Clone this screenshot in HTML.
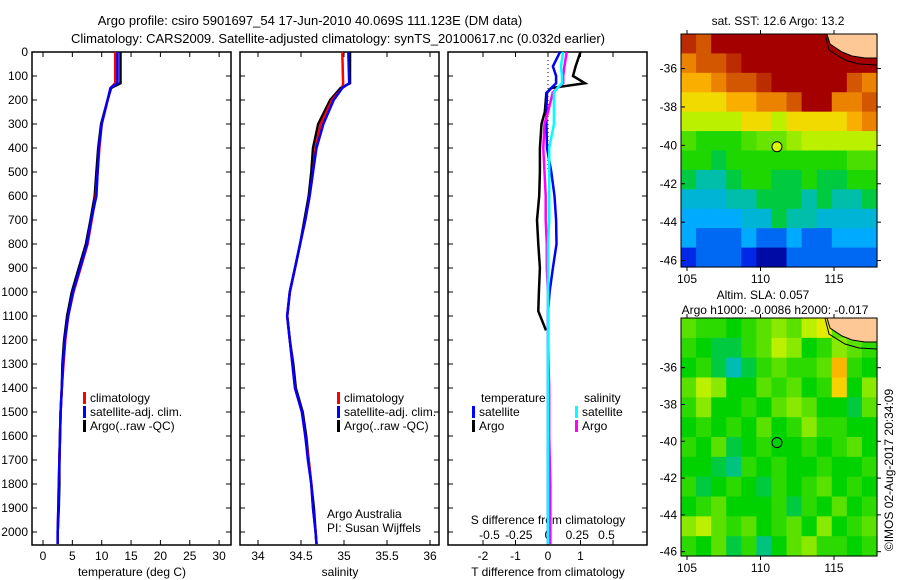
<!DOCTYPE html>
<html><head><meta charset="utf-8"><style>
body{margin:0;background:#fff;}
svg{display:block;font-family:"Liberation Sans",sans-serif;}
text{fill:#000;font-size:12px;}
</style></head><body>
<svg id="c" width="900" height="580">
<text x="310" y="25" text-anchor="middle" style="font-size:13px">Argo profile: csiro 5901697_54 17-Jun-2010 40.069S 111.123E (DM data)</text>
<text x="338" y="43" text-anchor="middle" style="font-size:13px">Climatology: CARS2009. Satellite-adjusted climatology: synTS_20100617.nc (0.032d earlier)</text>
</svg>
<script>
const depths=[0,130,150,200,300,400,500,600,700,800,900,1000,1100,1200,1300,1400,1500,1600,1700,1800,1900,2000,2050];
const tempClim=[12.3,12.3,11.5,11.0,10.0,9.6,9.3,9.0,8.3,7.6,6.4,5.2,4.3,3.8,3.5,3.2,3.0,2.9,2.8,2.7,2.6,2.5,2.5];
const tempSat=[12.7,12.7,11.5,11.0,10.0,9.5,9.3,9.1,8.2,7.5,6.3,5.1,4.3,3.7,3.4,3.2,3.0,2.9,2.8,2.7,2.6,2.5,2.5];
const tempArgo=[13.2,13.2,11.6,11.0,9.9,9.4,9.1,8.8,8.1,7.3,6.1,4.9,4.1,3.6,3.3,3.2,3.0,2.9,2.8,2.8,2.7,2.5,2.5];
const salClim=[34.98,34.99,34.98,34.86,34.73,34.67,34.64,34.6,34.55,34.49,34.43,34.37,34.34,34.37,34.4,34.43,34.51,34.55,34.59,34.62,34.64,34.67,34.68];
const salSat=[35.05,35.06,34.98,34.88,34.76,34.68,34.64,34.6,34.55,34.49,34.43,34.37,34.34,34.37,34.4,34.43,34.51,34.55,34.58,34.62,34.64,34.67,34.68];
const salArgo=[35.07,35.07,34.96,34.84,34.70,34.64,34.62,34.59,34.54,34.49,34.43,34.37,34.34,34.37,34.41,34.44,34.52,34.56,34.59,34.62,34.65,34.67,34.68];
const diffDepths=[0,60,100,130,150,170,250,300,400,500,600,700,800,900,1000,1080,1160,1200,1400,1600,1800,2000,2050];
const tDiffSat=[0.37,0.15,0.25,0.25,0.1,-0.03,-0.05,-0.05,-0.03,0.1,0.2,0.25,0.26,0.15,0.05,0.0,0.0,0.0,0.0,0.0,0.0,0.0,0.0];
const tDiffArgo=[1.0,0.85,0.77,1.14,0.1,-0.05,-0.1,-0.2,-0.25,-0.25,-0.27,-0.34,-0.3,-0.25,-0.28,-0.3,-0.06,null,null,null,null,null,null];
const sDiffSat=[0.13,0.11,0.12,0.12,0.08,0.05,0.05,0.05,0.01,0.01,0.01,0.01,0.0,0.0,0.0,0.0,0.0,0.0,0.0,0.0,0.0,0.0,0.0];
const sDiffArgo=[0.16,0.14,0.13,0.13,0.08,0.04,0.0,-0.03,-0.04,-0.03,-0.02,-0.02,-0.01,-0.01,0.0,0.0,0.0,0.0,0.01,0.01,0.02,0.02,0.02];
const depthTicks=[0,100,200,300,400,500,600,700,800,900,1000,1100,1200,1300,1400,1500,1600,1700,1800,1900,2000];
const tempTicks=[0,5,10,15,20,25,30];
const salTicks=[34,34.5,35,35.5,36];
const tDiffTicks=[-2,-1,0,1,2];
const tDiffLabels=["-2","-1","0","1",""];
const sDiffTicks=[-0.5,-0.25,0,0.25,0.5];
const sDiffLabels=["-0.5","-0.25","0","0.25","0.5"];
const sstRows=[
[15.5,15,16,16,16,16,16,16,16,16,16,16,16],
[14.5,15,15,15.5,16,16,16,16,16,16,16,16,16],
[14,14,14.5,15,15,15.5,16,16,16,16,16,15,14.5],
[13.5,13.5,13.5,14,14,14.5,14.5,15,16,16,14.5,14.5,15],
[13,13,13,13,13.5,13.5,13,13.5,13.5,13.5,13.5,14,14.5],
[12.3,12,12,12,12.3,12.5,12.5,12.8,13,13,13,13,13],
[12,12,11.5,12,12,12,12,12,12,12,12,12.3,12.3],
[11.5,11,11,11.5,12,12,11.5,11.5,12,11.5,11.5,12,12],
[10.5,10.5,10.5,11,11,11.5,11.5,11.5,11,11.5,11,11,11.5],
[10,10,10,10,10.5,10.5,11.5,11,11,10.5,10.5,10.5,10.5],
[10,9.5,9.5,9.5,10,9.5,9.5,10,9.5,9.5,10,10,10],
[9,9.5,9.5,9.5,9,8.5,8.5,9.5,9.5,9.5,9.5,9.5,9.5]];
const slaRows=[
[0.1,0.05,0.05,0.0,0.05,0.1,0.15,0.1,0.2,0.25,0.1,0.0,0.0],
[0.05,0.0,-0.05,-0.05,0.05,0.1,0.2,0.15,0.0,0.05,0.15,0.1,0.05],
[0.0,0.05,-0.05,-0.15,-0.05,0.05,0.1,0.05,0.05,0.1,0.35,0.05,0.0],
[0.1,0.2,0.15,0.0,0.0,0.1,0.05,0.1,0.0,0.05,0.3,0.0,0.15],
[0.05,0.15,0.0,0.0,0.05,0.0,0.1,0.15,0.1,0.0,0.0,-0.05,0.1],
[0.0,0.05,0.0,0.05,0.0,0.1,0.0,0.05,0.15,0.05,0.05,0.0,0.0],
[0.05,0.0,0.1,-0.05,0.0,0.05,0.0,0.0,0.05,0.0,0.05,0.1,0.0],
[0.0,0.0,-0.05,-0.1,0.05,0.0,0.05,0.0,0.0,0.05,0.0,0.0,0.05],
[0.05,-0.05,0.0,0.05,0.0,-0.05,0.05,0.0,0.05,0.1,0.0,0.05,0.0],
[0.0,0.05,0.1,0.0,0.0,0.0,0.05,-0.05,0.05,0.0,0.1,0.0,0.05],
[0.15,0.2,0.1,0.05,0.1,0.0,0.05,0.1,0.0,0.15,0.0,0.05,0.1],
[0.05,0.0,0.1,-0.05,0.05,-0.1,0.0,0.1,0.15,0.05,0.05,0.0,0.05]];
const mapLatTicks=[-36,-38,-40,-42,-44,-46];
const mapLonTicks=[105,110,115];

const svg=document.getElementById('c');const NS='http://www.w3.org/2000/svg';
function mk(tag,attrs,parent){const e=document.createElementNS(NS,tag);for(const k in attrs)e.setAttribute(k,attrs[k]);(parent||svg).appendChild(e);return e;}
function txt(x,y,s,anchor,parent){const t=mk('text',{x:x,y:y,'text-anchor':anchor||'start'},parent);t.textContent=s;return t;}
const Y0=52,Y1=545;
function yD(d){return Y0+d*0.24;}
function line(vals,ds,xf,color,name,w){
  let pts=[];for(let i=0;i<vals.length;i++){if(vals[i]===null)continue;pts.push(xf(vals[i]).toFixed(1)+','+yD(ds[i]).toFixed(1));}
  const p=mk('polyline',{points:pts.join(' '),fill:'none',stroke:color,'stroke-width':w||2.5});
  
  
}
function panel(x0,x1,name){const g=mk('g',{});
  mk('rect',{x:x0,y:Y0,width:x1-x0,height:Y1-Y0,fill:'none',stroke:'#000','stroke-width':1.5},g);return g;}
function xticks(g,ticks,labels,xf,ly){ticks.forEach((v,i)=>{const x=xf(v);mk('line',{x1:x,x2:x,y1:Y0,y2:Y0+5,stroke:'#000'},g);mk('line',{x1:x,x2:x,y1:Y1,y2:Y1-5,stroke:'#000'},g);const t=txt(x,ly,labels[i],'middle',g);});}
function yticks(g,x0,x1){depthTicks.forEach(d=>{const y=yD(d);mk('line',{x1:x0,x2:x0+5,y1:y,y2:y,stroke:'#000'},g);mk('line',{x1:x1,x2:x1-5,y1:y,y2:y,stroke:'#000'},g);});}
const xT=v=>43+v*5.87;
let g1=panel(32,231,'temperature-panel');yticks(g1,32,231);
depthTicks.forEach(d=>{const t=txt(28,yD(d)+4,String(d),'end',g1);});
xticks(g1,tempTicks,tempTicks.map(String),xT,560);
let t1=txt(132,576,'temperature (deg C)','middle',g1);
line(tempArgo,depths,xT,'#000','argo-temperature-line');line(tempClim,depths,xT,'#f00','climatology-temperature-line');line(tempSat,depths,xT,'#00f','satellite-temperature-line');
const xS=v=>258+(v-34)*86;
let g2=panel(240,439,'salinity-panel');yticks(g2,240,439);
xticks(g2,salTicks,salTicks.map(String),xS,560);
let t2=txt(340,576,'salinity','middle',g2);
line(salArgo,depths,xS,'#000','argo-salinity-line');line(salClim,depths,xS,'#f00','climatology-salinity-line');line(salSat,depths,xS,'#00f','satellite-salinity-line');
function legend(g,x,y,items){items.forEach((it,i)=>{mk('rect',{x:x,y:y+i*14-10,width:3,height:12,fill:it[1]},g);const t=txt(x+7,y+i*14,it[0],'start',g);});}
legend(g1,83,402,[['climatology','#f00'],['satellite-adj. clim.','#00f'],['Argo(..raw -QC)','#000']]);
legend(g2,337,402,[['climatology','#f00'],['satellite-adj. clim.','#00f'],['Argo(..raw -QC)','#000']]);
let a1=txt(327,518,'Argo Australia','start',g2);
let a2=txt(327,532,'PI: Susan Wijffels','start',g2);
const xTD=v=>548+v*32.5, xSD=v=>548+v*117;
let g3=panel(448,647,'difference-panel');yticks(g3,448,647);
xticks(g3,tDiffTicks,tDiffLabels,xTD,560);
sDiffTicks.forEach((v,i)=>{const t=txt(xSD(v),539,sDiffLabels[i],'middle',g3);});
let t3=txt(548,576,'T difference from climatology','middle',g3);
let t4=txt(548,524,'S difference from climatology','middle',g3);
mk('line',{x1:548,x2:548,y1:Y0,y2:yD(500),stroke:'#000','stroke-dasharray':'1,3'},g3);
line(tDiffArgo,diffDepths,xTD,'#000','argo-t-diff-line');line(tDiffSat,diffDepths,xTD,'#00f','satellite-t-diff-line');
line(sDiffArgo,diffDepths,xSD,'#f0f','argo-s-diff-line');line(sDiffSat,diffDepths,xSD,'#0ff','satellite-s-diff-line');
let l1=txt(481,402,'temperature','start',g3);
let l2=txt(584,402,'salinity','start',g3);
legend(g3,472,416,[['satellite','#00f'],['Argo','#000']]);
legend(g3,575,416,[['satellite','#0ff'],['Argo','#f0f']]);
// colormap keyed on SST-like scale
const cStops=[[8.3,[0,0,140]],[9,[0,40,230]],[10,[0,170,255]],[11,[0,190,170]],[11.8,[0,210,0]],[12.6,[120,230,0]],[13.2,[220,245,0]],[13.7,[255,200,0]],[14.4,[240,140,0]],[15.2,[200,70,0]],[16,[165,0,0]]];
function cmap(v){if(v<=cStops[0][0])return `rgb(${cStops[0][1]})`;for(let i=1;i<cStops.length;i++){if(v<=cStops[i][0]){const a=cStops[i-1],b=cStops[i],f=(v-a[0])/(b[0]-a[0]);return 'rgb('+a[1].map((c,k)=>Math.round(c+(b[1][k]-c)*f)).join(',')+')';}}return `rgb(${cStops[cStops.length-1][1]})`;}
function map(name,top,bot,latTop,latPerPx,rows,toScale,x0,x1,argoVal){
  const g=mk('g',{});
  const lonX=l=>687+(l-105)*14.7;const latY=l=>top+(latTop-l)*latPerPx;
  const nr=rows.length,nc=rows[0].length,cw=(x1-x0)/nc,ch=(bot-top)/nr;
  rows.forEach((row,i)=>row.forEach((v,j)=>{mk('rect',{x:x0+j*cw,y:top+i*ch,width:cw+0.6,height:ch+0.6,fill:cmap(toScale(v))},g);}));
  mk('path',{d:`M${x1-50},${top} L${x1-47},${top+10} L${x1-35},${top+18} L${x1-25},${top+22} L${x1-12},${top+24} L${x1},${top+24} L${x1},${top} Z`,fill:'#fdc896',stroke:'#000'},g);
  mk('path',{d:`M${x1-52},${top} L${x1-48},${top+16} L${x1-32},${top+26} L${x1-18},${top+30} L${x1},${top+31}`,fill:'none',stroke:'#000'},g);
  mk('rect',{x:x0,y:top,width:x1-x0,height:bot-top,fill:'none',stroke:'#000'},g);
  mapLatTicks.forEach(l=>{const y=latY(l);mk('line',{x1:x0,x2:x0+4,y1:y,y2:y,stroke:'#000'},g);mk('line',{x1:x1,x2:x1+4,y1:y,y2:y,stroke:'#000'},g);const t=txt(x0-4,y+4,String(l),'end',g);});
  mapLonTicks.forEach(l=>{const x=lonX(l);mk('line',{x1:x,x2:x,y1:bot,y2:bot+4,stroke:'#000'},g);mk('line',{x1:x,x2:x,y1:top,y2:top-4,stroke:'#000'},g);const t=txt(x,bot+16,String(l),'middle',g);});
  const c=mk('circle',{cx:lonX(111.12),cy:latY(-40.07),r:5,fill:cmap(toScale(argoVal)),stroke:'#000'},g);
  
}
map('sst-map',34,267,-34.2,19.2,sstRows,v=>v,681,877,13.2);
map('sla-map',318,556,-33.3,18.4,slaRows,v=>11.8+v*6,681,877,-0.01);
let m1=txt(778,25,'sat. SST: 12.6 Argo: 13.2','middle');
let m2=txt(763,299,'Altim. SLA: 0.057','middle');
let m3=txt(775,314,'Argo h1000: -0.0086 h2000: -0.017','middle');
let ts=txt(0,0,'©IMOS 02-Aug-2017 20:34:09','middle');ts.setAttribute('transform','translate(893,470) rotate(-90)');


</script>
</body></html>
